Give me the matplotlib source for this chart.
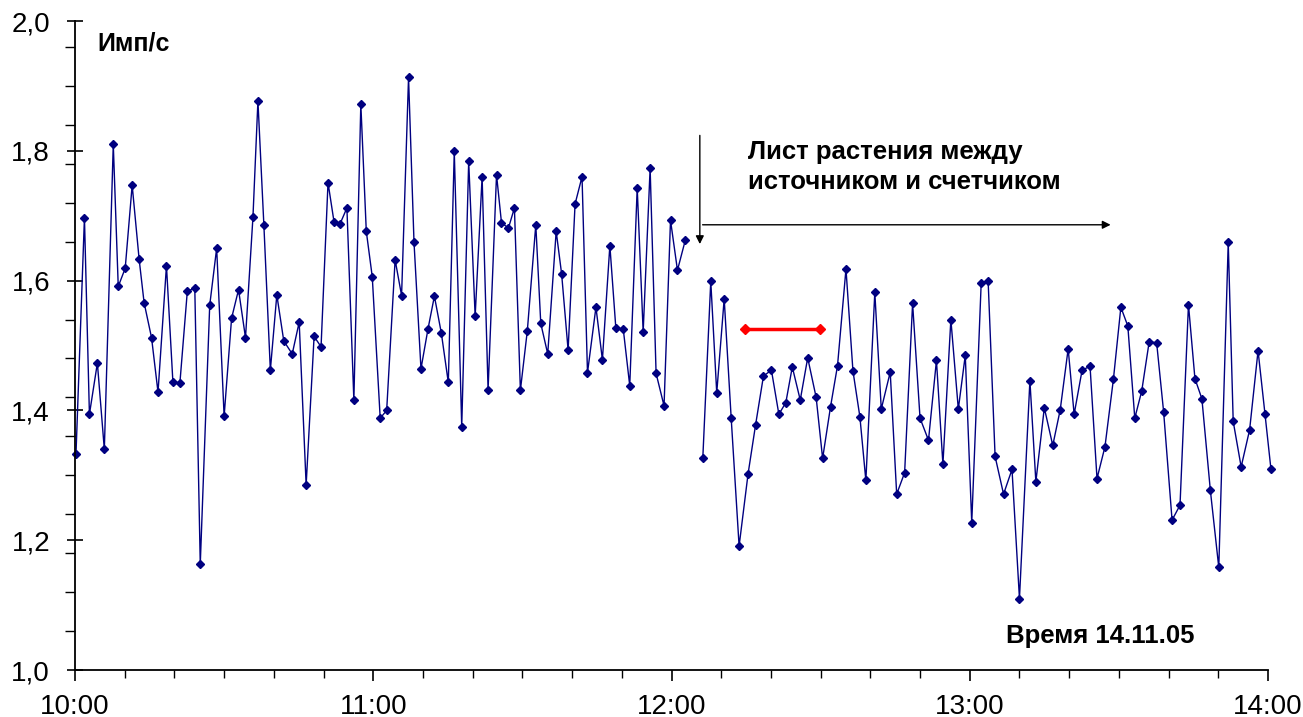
import matplotlib.pyplot as plt
import numpy as np
from matplotlib.ticker import FixedLocator, FuncFormatter

plt.rcParams['font.family'] = ['Liberation Sans', 'DejaVu Sans']

# minutes after 10:00
minutes = [
    0.2, 1.9, 2.9, 4.5, 5.9, 7.7, 8.7, 10.1, 11.5, 12.9,
    13.9, 15.4, 16.7, 18.4, 19.7, 21.1, 22.6, 24.1, 25.2, 27.1,
    28.5, 30.0, 31.5, 32.9, 34.3, 35.8, 36.8, 38.0, 39.3, 40.6,
    42.0, 43.7, 45.1, 46.5, 48.1, 49.5, 50.9, 52.1, 53.3, 54.7,
    56.1, 57.5, 58.6, 59.8, 61.4, 62.7, 64.4, 65.7, 67.1, 68.2,
    69.6, 71.0, 72.3, 73.7, 75.1, 76.3, 77.8, 79.2, 80.5, 81.9,
    83.1, 84.8, 85.8, 87.2, 88.4, 89.6, 91.0, 92.7, 93.7, 95.1,
    96.8, 97.9, 99.2, 100.6, 102.0, 103.1, 104.8, 106.1, 107.6, 108.8,
    110.3, 111.6, 113.1, 114.3, 115.7, 116.9, 118.5, 119.8, 121.2, 122.8,
    126.3, 127.9, 129.1, 130.6, 132.0, 133.6, 135.4, 136.9, 138.5, 140.1,
    141.6, 143.0, 144.3, 145.9, 147.4, 149.1, 150.4, 152.0, 153.4, 155.1,
    156.5, 157.9, 159.1, 160.9, 162.2, 164.0, 165.3, 166.9, 168.5, 170.0,
    171.7, 173.3, 174.6, 176.2, 177.7, 179.1, 180.4, 182.3, 183.7, 185.1,
    186.8, 188.5, 190.0, 192.1, 193.3, 195.0, 196.7, 198.2, 199.8, 201.0,
    202.6, 204.2, 205.6, 207.2, 208.9, 210.4, 211.8, 213.2, 214.6, 216.1,
    217.6, 219.0, 220.7, 222.3, 224.0, 225.3, 226.7, 228.4, 230.1, 232.0,
    233.0, 234.6, 236.3, 238.0, 239.4, 240.6,
]
counts = [
    1.333, 1.697, 1.394, 1.473, 1.340, 1.810, 1.591, 1.619, 1.747, 1.633,
    1.566, 1.512, 1.428, 1.623, 1.443, 1.442, 1.584, 1.588, 1.163, 1.562,
    1.650, 1.391, 1.542, 1.586, 1.512, 1.698, 1.877, 1.685, 1.462, 1.578,
    1.507, 1.487, 1.536, 1.285, 1.514, 1.498, 1.751, 1.691, 1.687, 1.712,
    1.416, 1.872, 1.676, 1.606, 1.388, 1.400, 1.632, 1.577, 1.913, 1.659,
    1.464, 1.525, 1.576, 1.519, 1.443, 1.799, 1.375, 1.784, 1.545, 1.760,
    1.432, 1.763, 1.689, 1.681, 1.712, 1.431, 1.523, 1.686, 1.534, 1.487,
    1.676, 1.610, 1.493, 1.718, 1.760, 1.458, 1.559, 1.478, 1.654, 1.527,
    1.525, 1.438, 1.743, 1.521, 1.773, 1.457, 1.407, 1.693, 1.616, 1.663,
    1.327, 1.599, 1.427, 1.572, 1.389, 1.191, 1.302, 1.377, 1.453, 1.462,
    1.394, 1.412, 1.467, 1.416, 1.481, 1.420, 1.326, 1.406, 1.469, 1.618,
    1.461, 1.390, 1.292, 1.582, 1.402, 1.459, 1.271, 1.304, 1.565, 1.388,
    1.354, 1.477, 1.317, 1.540, 1.402, 1.485, 1.227, 1.596, 1.599, 1.329,
    1.271, 1.309, 1.110, 1.446, 1.290, 1.404, 1.346, 1.401, 1.495, 1.394,
    1.462, 1.468, 1.295, 1.344, 1.448, 1.559, 1.530, 1.388, 1.430, 1.506,
    1.504, 1.398, 1.231, 1.254, 1.563, 1.449, 1.418, 1.277, 1.158, 1.659,
    1.383, 1.313, 1.370, 1.492, 1.394, 1.309,
]
# points before the gap (leaf inserted after 12:02)
n_before = 90

# red reference segment
ref_minutes = [134.8, 149.9]
ref_level = [1.525, 1.525]

hour_labels = ['10:00', '11:00', '12:00', '13:00', '14:00']

fig = plt.figure(figsize=(13.03, 7.17), dpi=100)
ax = fig.add_axes([75 / 1303, 47 / 717, 1193 / 1303, 649 / 717])

line_kw = dict(color='#000080', lw=1.0, marker='D', ms=4.5, clip_on=False)
ax.plot(minutes[:n_before], counts[:n_before], **line_kw)
ax.plot(minutes[n_before:], counts[n_before:], **line_kw)
ax.plot(ref_minutes, ref_level, color='red', lw=2.5, marker='D', ms=5)

ax.set_xlim(0, 240)
ax.set_ylim(1.0, 2.0)

for s in ['top', 'right']:
    ax.spines[s].set_visible(False)
for s in ['left', 'bottom']:
    ax.spines[s].set_color('black')
    ax.spines[s].set_linewidth(1.3)

ax.set_xticks(np.arange(0, 241, 60))
ax.set_xticklabels(hour_labels, fontsize=20)
ax.xaxis.set_minor_locator(FixedLocator(np.arange(0, 241, 10)))
ax.set_yticks(np.arange(1.0, 2.01, 0.2))
ax.yaxis.set_major_formatter(FuncFormatter(lambda v, p: f'{v:.1f}'.replace('.', ',')))
ax.yaxis.set_minor_locator(FixedLocator(np.arange(1.06, 1.99, 0.06)))
ax.tick_params(axis='y', which='major', direction='inout', length=12, width=1.2, labelsize=20, pad=12)
ax.tick_params(axis='y', which='minor', direction='out', length=7, width=1.0)
ax.tick_params(axis='x', which='major', direction='out', length=8, width=1.2, labelsize=20, pad=9)
ax.tick_params(axis='x', which='minor', direction='out', length=6, width=1.0)

ax.text(0.019, 0.965, 'Имп/с', transform=ax.transAxes, fontsize=18, fontweight='bold', va='center')
ax.text(0.78, 0.052, 'Время 14.11.05', transform=ax.transAxes, fontsize=18.5, fontweight='bold', va='center')
ax.text(135.4, 1.775, 'Лист растения между\nисточником и счетчиком', fontsize=18.5,
        fontweight='bold', va='center', linespacing=1.3)

ax.annotate('', xy=(125.7, 1.652), xytext=(125.7, 1.828),
            arrowprops=dict(arrowstyle='-|>', color='black', lw=1.0, mutation_scale=12))
ax.annotate('', xy=(208.9, 1.686), xytext=(125.7, 1.686),
            arrowprops=dict(arrowstyle='-|>', color='black', lw=1.0, mutation_scale=12))

fig.savefig('out.png', dpi=100)
